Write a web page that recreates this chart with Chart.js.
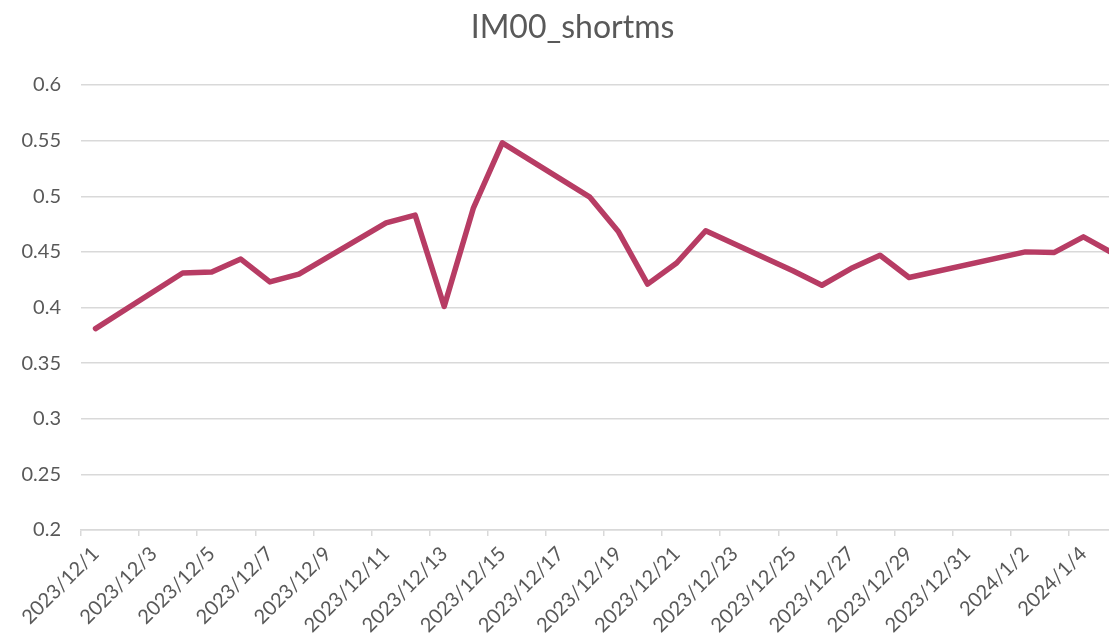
<!DOCTYPE html>
<html>
<head>
<meta charset="utf-8">
<script src="https://cdn.jsdelivr.net/npm/chart.js@4/dist/chart.umd.min.js"></script>
<style>
  html, body { margin: 0; padding: 0; background: #fff; overflow: hidden; }
  #wrap { width: 1154px; height: 640px; position: relative; }
</style>
</head>
<body>
<div id="wrap"><canvas id="chart"></canvas></div>
<script>
// trading days and values
const tradeDates = [
  '2023-12-01', '2023-12-04', '2023-12-05', '2023-12-06', '2023-12-07', '2023-12-08',
  '2023-12-11', '2023-12-12', '2023-12-13', '2023-12-14', '2023-12-15',
  '2023-12-18', '2023-12-19', '2023-12-20', '2023-12-21', '2023-12-22',
  '2023-12-25', '2023-12-26', '2023-12-27', '2023-12-28', '2023-12-29',
  '2024-01-02', '2024-01-03', '2024-01-04', '2024-01-05'
];
const shortmsValues = [
  0.381, 0.431, 0.432, 0.4435, 0.423, 0.430,
  0.476, 0.483, 0.401, 0.489, 0.548,
  0.4995, 0.468, 0.421, 0.440, 0.469,
  0.433, 0.420, 0.435, 0.447, 0.427,
  0.450, 0.4495, 0.4635, 0.449
];
const axisStart = '2023-12-01';
const axisEnd = '2024-01-05';
const yTicks = { min: 0.2, max: 0.6, step: 0.05 };

const gray = '#595959';
const gridGray = '#d9d9d9';
const lineColor = '#b73c64';

// Excel style date axis: one slot per calendar day
function fmt(d) {
  return `${d.getUTCFullYear()}/${d.getUTCMonth() + 1}/${d.getUTCDate()}`;
}
const dayLabels = [];
const dayValues = [];
for (let d = new Date(axisStart + 'T00:00:00Z'); d <= new Date(axisEnd + 'T00:00:00Z'); d.setUTCDate(d.getUTCDate() + 1)) {
  const key = d.toISOString().slice(0, 10);
  dayLabels.push(fmt(d));
  const idx = tradeDates.indexOf(key);
  dayValues.push(idx >= 0 ? shortmsValues[idx] : null);
}

const ctx = document.getElementById('chart').getContext('2d');
new Chart(ctx, {
  type: 'line',
  data: {
    labels: dayLabels,
    datasets: [{
      label: 'IM00_shortms',
      data: dayValues,
      borderColor: lineColor,
      borderWidth: 5.5,
      borderJoinStyle: 'round',
      borderCapStyle: 'round',
      pointRadius: 0,
      spanGaps: true,
      tension: 0
    }]
  },
  options: {
    responsive: true,
    maintainAspectRatio: false,
    animation: false,
    layout: { padding: { left: 18, right: 27, top: 0, bottom: 0 } },
    plugins: {
      legend: { display: false },
      tooltip: { enabled: false },
      title: {
        display: true,
        text: 'IM00_shortms',
        color: gray,
        font: { family: 'Lato', size: 32, weight: 'normal', lineHeight: 1.2 },
        padding: { top: 8, bottom: 38.6 }
      }
    },
    scales: {
      x: {
        offset: true,
        border: { display: true, color: gridGray, width: 1.5 },
        grid: {
          offset: true,
          drawOnChartArea: false,
          tickLength: 6,
          lineWidth: 1.5,
          tickColor: (c) => (c.index % 2 === 0 ? gridGray : 'rgba(0,0,0,0)')
        },
        ticks: {
          autoSkip: false,
          maxRotation: 45,
          minRotation: 45,
          padding: 6,
          color: gray,
          font: { family: 'Lato', size: 20 },
          callback: function (val, i) {
            return i % 2 === 0 ? this.getLabelForValue(val) : '';
          }
        },
        afterFit: (scale) => { scale.height = 110; }
      },
      y: {
        min: yTicks.min,
        max: yTicks.max,
        border: { display: false },
        grid: { color: gridGray, lineWidth: 1.5, drawTicks: false },
        ticks: {
          stepSize: yTicks.step,
          padding: 20,
          color: gray,
          font: { family: 'Lato', size: 20 },
          callback: (v) => String(+v.toFixed(2))
        },
        afterFit: (scale) => { scale.width = 63; }
      }
    }
  }
});
</script>
</body>
</html>
